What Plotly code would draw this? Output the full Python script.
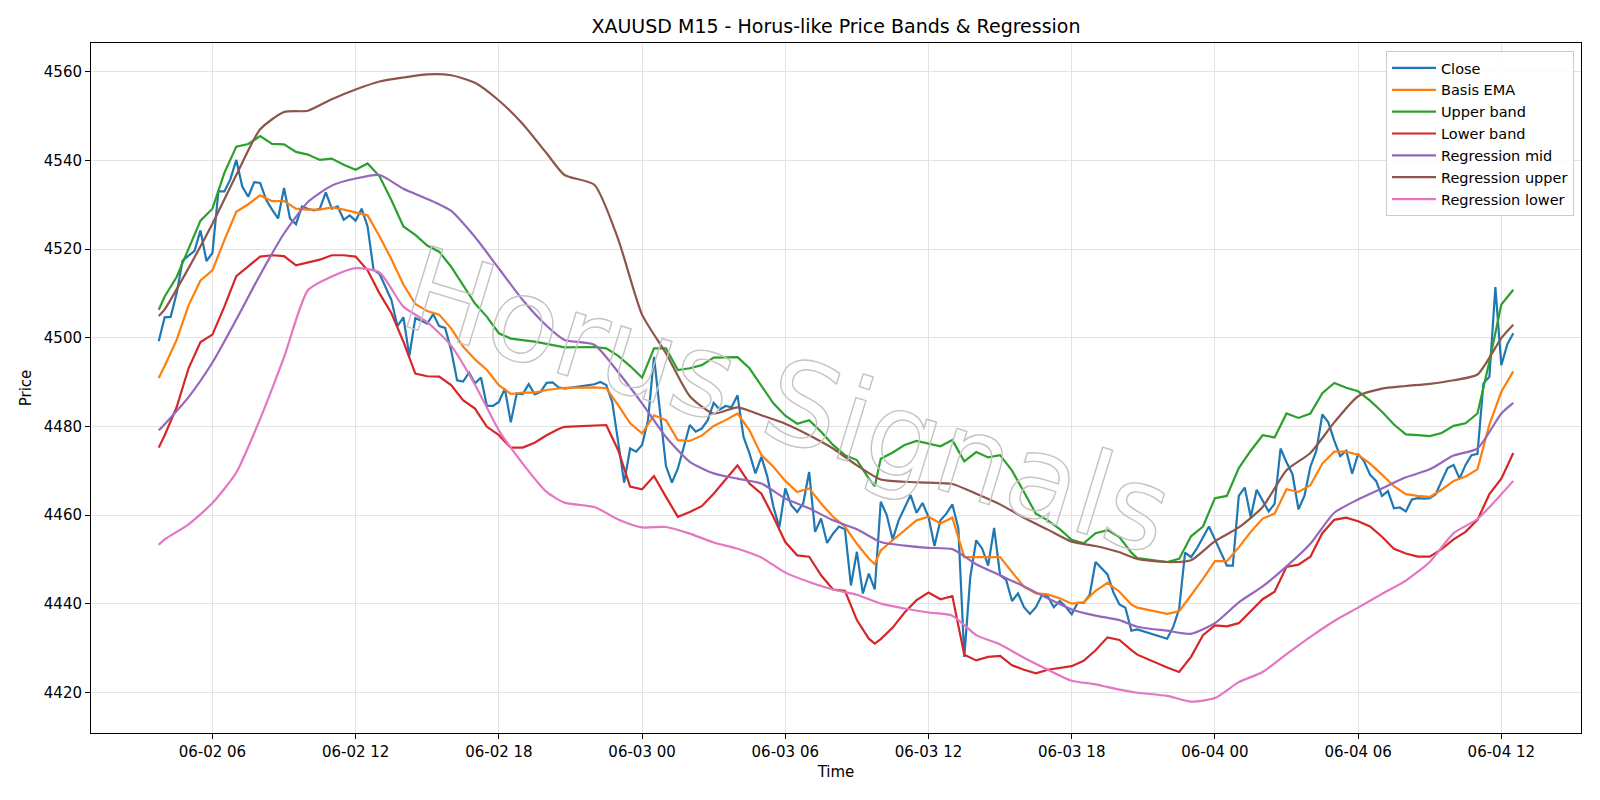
import pandas as pd
import plotly.graph_objects as go

# ---------------- data ----------------
start = pd.Timestamp("2026-06-02 03:45")
end = pd.Timestamp("2026-06-04 12:30")

# M15 close, every bar (daily break 21:00-21:45 has no bars)
close = [
    4499.2, 4504.6, 4504.7, 4510.0, 4517.4, 4518.6, 4519.6, 4524.2, 4517.3, 4519.1,
    4533.0, 4533.0, 4535.7, 4540.1, 4534.1, 4531.8, 4535.1, 4534.9, 4531.1, 4528.9,
    4526.9, 4533.8, 4526.9, 4525.6, 4529.6, 4529.1, 4528.7, 4529.1, 4532.8, 4529.1,
    4529.6, 4526.6, 4527.6, 4526.4, 4529.1, 4525.1, 4515.3, 4514.4, 4511.4, 4508.5,
    4502.6, 4504.6, 4495.9, 4504.4, 4503.8, 4503.2, 4505.3, 4502.6, 4502.2, 4497.2,
    4490.4, 4490.1, 4492.1, 4489.7, 4491.0, 4484.6, 4484.6, 4485.5, 4488.5, 4480.9,
    4487.4, 4487.3, 4489.5, 4487.2, 4487.8, 4489.8, 4489.9, 4488.8, 4488.5,
    4489.5, 4490.0, 4489.3, 4485.5, 4476.9, 4467.3, 4475.0, 4474.3, 4475.8, 4481.4,
    4495.7, 4483.7, 4471.1, 4467.3, 4470.5, 4475.4, 4480.3, 4478.8, 4479.5, 4481.4,
    4485.3, 4483.8, 4484.6, 4484.3, 4487.0, 4477.6, 4473.9, 4469.4, 4473.1, 4468.6,
    4461.9, 4457.2, 4466.0, 4462.2, 4460.7, 4462.6, 4469.7, 4456.2, 4459.2, 4453.7,
    4455.8, 4457.4, 4456.8, 4444.1, 4451.7, 4442.3, 4446.8, 4443.2, 4463.0, 4460.0,
    4454.5, 4458.8, 4461.6, 4464.5, 4460.5, 4462.7, 4459.6, 4453.0, 4458.8, 4460.3,
    4462.4, 4457.0, 4428.0, 4446.0, 4454.3, 4452.4, 4448.6, 4457.1, 4446.4, 4445.4,
    4440.6, 4442.3, 4439.2, 4437.7, 4439.2, 4441.9, 4441.6, 4439.2, 4440.6, 4439.3,
    4437.6, 4440.2, 4440.2, 4441.9, 4449.4, 4448.1, 4446.6, 4442.5, 4439.8, 4439.1,
    4433.9, 4434.2,
    4432.1, 4434.7, 4438.8, 4451.5, 4450.5, 4452.5, 4454.9, 4457.4, 4454.5, 4451.5,
    4448.6, 4448.6, 4464.3, 4466.2, 4459.5, 4465.7, 4463.3, 4460.8, 4462.5, 4475.0,
    4471.9, 4469.2, 4461.3, 4464.3, 4470.9, 4474.5, 4482.7, 4480.9, 4476.8, 4473.3,
    4474.5, 4469.3, 4473.8, 4472.1, 4469.1, 4467.7, 4464.3, 4465.4, 4461.5, 4461.7,
    4460.8, 4463.5, 4463.8, 4463.7, 4463.8, 4464.7, 4467.7, 4470.6, 4471.3, 4468.2,
    4471.3, 4473.5, 4473.8, 4489.7, 4491.2, 4511.4, 4493.8, 4498.5, 4501.0,
]

# Bands, sampled every 30 minutes (plus a few turning points)
basis_ema = [
    4490.9, 4493.6, 4499.5, 4507.3, 4512.9, 4515.2, 4522.0, 4528.4, 4530.1, 4532.1,
    4530.8, 4530.8, 4529.1, 4528.9, 4528.9, 4529.4, 4528.9, 4528.2, 4527.6, 4522.9,
    4517.7, 4512.0, 4507.6, 4506.0, 4505.2, 4502.1, 4498.0, 4495.1, 4492.7, 4489.3,
    4487.3, 4487.6, 4487.6, 4488.2, 4488.6,
    4488.7,
    4488.8, 4488.6, 4484.8, 4480.7, 4478.4, 4482.5, 4481.4, 4476.9, 4476.7, 4477.9,
    4480.1, 4481.4, 4482.9, 4479.1, 4473.5, 4470.9, 4467.7, 4465.2, 4466.0, 4462.6,
    4459.6, 4457.4, 4453.5, 4450.2,
    4448.9,
    4452.0, 4454.3, 4456.6, 4458.8, 4459.6, 4458.1, 4459.4, 4450.5, 4450.5, 4450.5,
    4450.5, 4447.1, 4443.8, 4442.3, 4442.1, 4441.2, 4440.0, 4440.3, 4442.9, 4444.7,
    4442.7, 4439.8,
    4439.1,
    4437.7, 4438.3, 4441.9, 4445.6, 4449.6, 4449.6, 4452.7, 4456.2, 4459.2, 4460.3,
    4465.8, 4465.2, 4466.7, 4471.6, 4474.3, 4474.3, 4473.6, 4471.6, 4469.1, 4466.5,
    4464.7, 4464.3, 4464.1, 4465.7, 4467.7, 4468.7, 4470.3, 4480.4, 4487.8, 4492.4,
]
upper_band = [
    4506.3, 4509.3, 4513.7, 4520.1, 4526.4, 4529.1, 4537.2, 4543.1, 4543.7, 4545.5,
    4543.7, 4543.6, 4541.9, 4541.3, 4540.1, 4540.4, 4539.0, 4537.9, 4539.3, 4536.4,
    4531.0, 4525.1, 4523.2, 4520.8, 4519.4, 4516.0, 4511.9, 4507.7, 4504.7, 4501.0,
    4499.8, 4499.5, 4499.1, 4498.6, 4498.0,
    4497.8,
    4497.9, 4497.6, 4495.9, 4493.6, 4491.0, 4497.6, 4497.6, 4492.7, 4493.1, 4493.8,
    4495.5, 4495.5, 4495.6, 4493.1, 4489.1, 4485.2, 4482.4, 4480.6, 4481.4, 4478.8,
    4475.8, 4473.5, 4472.4, 4468.2,
    4466.5,
    4472.7, 4474.1, 4475.8, 4476.7, 4476.1, 4475.5, 4476.9, 4472.1, 4474.2, 4473.0,
    4473.5, 4470.0, 4465.2, 4460.3, 4458.8, 4456.8, 4454.4, 4453.6, 4455.9, 4456.6,
    4455.0, 4451.5,
    4450.3,
    4449.4, 4450.1, 4455.2, 4457.4, 4463.8, 4464.3, 4470.6, 4474.5, 4478.0, 4477.5,
    4482.9, 4481.9, 4482.9, 4487.5, 4489.8, 4488.7, 4487.9, 4485.8, 4483.3, 4480.4,
    4478.2, 4478.0, 4477.8, 4478.5, 4480.1, 4480.7, 4482.9, 4494.6, 4507.5, 4510.8,
]
lower_band = [
    4475.2, 4478.0, 4484.3, 4493.1, 4499.0, 4500.7, 4507.0, 4513.9, 4516.1, 4518.3,
    4518.6, 4518.4, 4516.3, 4516.9, 4517.6, 4518.6, 4518.6, 4518.3, 4515.2, 4510.0,
    4505.5, 4499.1, 4491.9, 4491.3, 4491.2, 4489.3, 4485.9, 4484.0, 4479.9, 4478.0,
    4475.2, 4475.2, 4476.3, 4478.0, 4479.4,
    4479.9,
    4480.1, 4480.3, 4474.6, 4466.4, 4465.8, 4468.8, 4464.1, 4459.6, 4460.7, 4462.0,
    4464.8, 4467.9, 4471.2, 4467.1, 4464.8, 4459.6, 4453.9, 4450.9, 4450.6, 4446.4,
    4443.2, 4442.9, 4436.3, 4432.1,
    4431.0,
    4432.0, 4434.6, 4438.0, 4440.8, 4442.5, 4441.0, 4441.7, 4428.5, 4427.2, 4428.0,
    4428.2, 4426.1, 4425.1, 4424.3, 4425.1, 4425.5, 4425.9, 4427.1, 4429.5, 4432.4,
    4431.8, 4429.5,
    4428.5,
    4425.6, 4424.6, 4428.0, 4432.9, 4435.1, 4434.9, 4435.6, 4438.3, 4441.0, 4442.7,
    4448.3, 4448.8, 4450.6, 4455.9, 4458.9, 4459.4, 4458.6, 4457.4, 4455.1, 4452.4,
    4451.3, 4450.6, 4450.6, 4452.3, 4454.5, 4456.2, 4458.9, 4464.7, 4468.2, 4474.0,
]

# Regression channel, sampled hourly (plus first/last bars and the break edges)
reg_mid = [
    4479.1, 4480.5, 4486.6, 4494.4, 4504.1, 4514.2, 4523.5, 4530.6, 4534.3, 4535.9,
    4536.7, 4533.6, 4531.3, 4528.6, 4522.7, 4515.6, 4508.5, 4502.7,
    4499.5,
    4498.4, 4492.2, 4485.2, 4477.6, 4472.0, 4469.4, 4468.2, 4467.1, 4463.7, 4461.5,
    4458.8, 4456.8, 4453.9, 4453.1, 4452.6, 4452.3, 4448.9, 4446.4, 4443.9, 4441.2,
    4438.7, 4437.3, 4436.3,
    4434.8,
    4433.9, 4433.2, 4435.6, 4440.3, 4443.9, 4448.4, 4453.5, 4460.5, 4463.5, 4466.0,
    4468.5, 4470.3, 4473.4, 4475.0, 4482.9,
    4485.3,
]
reg_upper = [
    4504.9, 4506.4, 4515.7, 4525.7, 4536.7, 4547.0, 4550.9, 4551.2, 4553.8, 4556.0,
    4557.8, 4558.7, 4559.4, 4559.2, 4557.5, 4553.5, 4548.2, 4541.6,
    4536.7,
    4534.5, 4522.2, 4505.2, 4496.5, 4486.8, 4482.9, 4484.3, 4482.5, 4480.6, 4478.0,
    4475.0, 4471.2, 4468.0, 4467.5, 4467.3, 4467.0, 4464.8, 4462.4, 4459.4, 4456.7,
    4454.0, 4453.0, 4451.6,
    4450.1,
    4449.4, 4449.8, 4454.1, 4457.2, 4461.8, 4470.1, 4474.0, 4480.9, 4486.8, 4488.5,
    4489.1, 4489.6, 4490.4, 4491.7, 4499.9,
    4502.9,
]
reg_lower = [
    4453.3, 4454.5, 4457.9, 4462.7, 4469.6, 4481.7, 4495.6, 4510.7, 4513.8, 4515.7,
    4514.7, 4507.0, 4503.5, 4498.2, 4489.4, 4479.1, 4471.6, 4465.2,
    4462.8,
    4461.8, 4459.0, 4457.2, 4457.3, 4455.8, 4453.8, 4452.4, 4450.4, 4447.0, 4444.9,
    4443.2, 4442.0, 4440.0, 4438.9, 4438.0, 4437.3, 4432.9, 4430.8, 4427.8, 4425.1,
    4422.6, 4421.8, 4420.6,
    4419.9,
    4419.2, 4417.9, 4418.7, 4422.3, 4424.6, 4428.6, 4432.5, 4436.1, 4439.1, 4442.2,
    4445.2, 4449.4, 4455.9, 4459.1, 4464.7,
    4467.7,
]

# ---------------- time axes ----------------
all_bars = pd.date_range(start, end, freq="15min")
close_times = [t for t in all_bars if t.hour != 21]
pre_break = [t for t in close_times if t.hour == 20 and t.minute == 45]
band_extra = set([start, pd.Timestamp("2026-06-03 09:45")] + pre_break)
band_times = [t for t in close_times if t.minute in (0, 30) or t in band_extra]
reg_extra = set([start, end] + pre_break)
reg_times = [t for t in close_times if t.minute == 0 or t in reg_extra]

series = [
    ("Close", close_times, close, "#1f77b4", "linear"),
    ("Basis EMA", band_times, basis_ema, "#ff7f0e", "linear"),
    ("Upper band", band_times, upper_band, "#2ca02c", "linear"),
    ("Lower band", band_times, lower_band, "#d62728", "linear"),
    ("Regression mid", reg_times, reg_mid, "#9467bd", "spline"),
    ("Regression upper", reg_times, reg_upper, "#8c564b", "spline"),
    ("Regression lower", reg_times, reg_lower, "#e377c2", "spline"),
]

fig = go.Figure()
for name, xs, ys, col, shape in series:
    line = dict(color=col, width=2.2, shape=shape)
    if shape == "spline":
        line["smoothing"] = 0.6
    fig.add_trace(go.Scatter(x=xs, y=ys, mode="lines", name=name, line=line))

# autoscale like matplotlib (5% margins)
all_y = close + basis_ema + upper_band + lower_band + reg_mid + reg_upper + reg_lower
ymin, ymax = min(all_y), max(all_y)
ypad = 0.05 * (ymax - ymin)
span = end - start
xr = [start - 0.05 * span, end + 0.05 * span]

FONT = "DejaVu Sans"
L, R, T, B = 91, 19, 43, 67
W, H = 1600, 800
pw, ph = W - L - R, H - T - B

fig.update_layout(
    width=W, height=H,
    margin=dict(l=L, r=R, t=T, b=B),
    paper_bgcolor="white", plot_bgcolor="white",
    font=dict(family=FONT, size=15, color="black"),
    title=dict(text="XAUUSD M15 - Horus-like Price Bands & Regression",
               x=0.5, xref="paper", xanchor="center",
               y=1 - 26 / H, yref="container", yanchor="middle",
               font=dict(family=FONT, size=19, color="black")),
    showlegend=True,
    legend=dict(x=(1574 - L) / pw, y=(H - B - 51) / ph, xanchor="right", yanchor="top",
                bgcolor="rgba(255,255,255,0.85)", bordercolor="#cccccc", borderwidth=1,
                font=dict(family=FONT, size=14.5), tracegroupgap=0, itemwidth=44),
    annotations=[dict(
        text="Horus Signals", xref="paper", yref="paper",
        x=(787 - L) / pw, y=(H - B - 400) / ph, xanchor="center", yanchor="middle",
        showarrow=False, textangle=17,
        font=dict(family=FONT, size=116, color="rgba(150,150,150,0.35)"),
    )],
)

fig.update_xaxes(
    type="date", range=xr, tick0="2026-06-02 00:00", dtick=6 * 3600 * 1000,
    tickformat="%m-%d %H", ticks="outside", ticklen=5, tickcolor="black",
    showline=True, linecolor="black", linewidth=1, mirror=True,
    showgrid=True, gridcolor="#e3e3e3", gridwidth=1, zeroline=False,
    tickfont=dict(family=FONT, size=15),
    title=dict(text="Time", standoff=6, font=dict(family=FONT, size=15)),
)
fig.update_yaxes(
    range=[ymin - ypad, ymax + ypad], tick0=4420, dtick=20,
    ticks="outside", ticklen=5, tickcolor="black",
    showline=True, linecolor="black", linewidth=1, mirror=True,
    showgrid=True, gridcolor="#e3e3e3", gridwidth=1, zeroline=False,
    tickfont=dict(family=FONT, size=15),
    title=dict(text="Price", standoff=8, font=dict(family=FONT, size=15)),
)

# watermark drawn as outlined (hollow) glyphs, like the reference
post = """
var gd = document.getElementById('{plot_id}');
function outlineWatermark() {
  var els = gd.querySelectorAll('.annotation-text');
  for (var k = 0; k < els.length; k++) {
    els[k].style.fill = 'none';
    els[k].style.stroke = '#c4c4c4';
    els[k].style.strokeWidth = '1.4px';
  }
}
outlineWatermark();
if (gd.on) { gd.on('plotly_afterplot', outlineWatermark); }
setTimeout(outlineWatermark, 50);
setTimeout(outlineWatermark, 300);
"""

fig.write_html("out.html", post_script=post)
